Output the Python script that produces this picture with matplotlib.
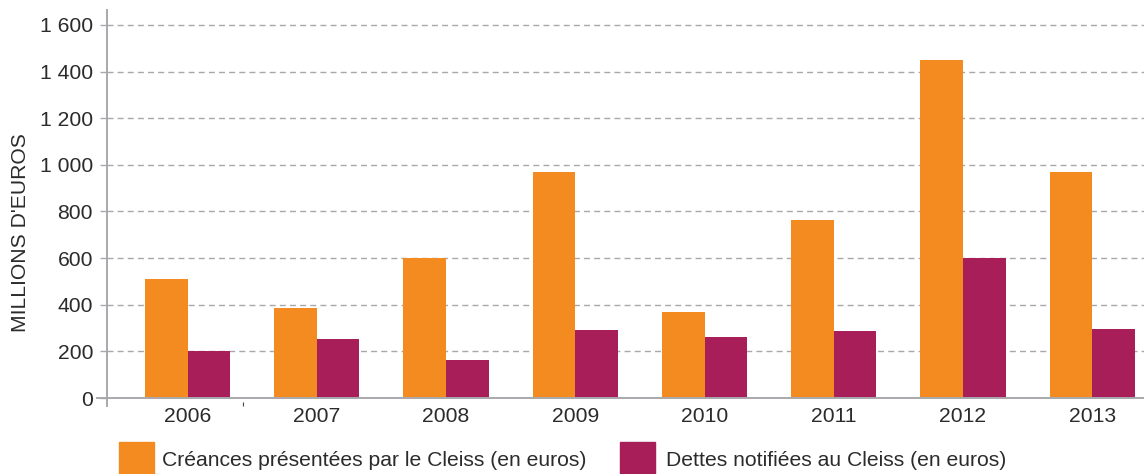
import matplotlib.pyplot as plt
import numpy as np
from matplotlib.patches import Rectangle

plt.rcParams["font.family"] = ["Liberation Sans", "DejaVu Sans"]

years = ["2006", "2007", "2008", "2009", "2010", "2011", "2012", "2013"]
creances = [510, 385, 600, 970, 370, 765, 1450, 970]
dettes = [200, 255, 165, 290, 260, 288, 600, 295]
y_ticks = [0, 200, 400, 600, 800, 1000, 1200, 1400, 1600]
y_labels = ["0", "200", "400", "600", "800", "1 000", "1 200", "1 400", "1 600"]

ORANGE = "#F38B20"
PURPLE = "#A81E59"
TEXT = "#2b2b2b"
AXIS = "#a9a9ad"
GRID = "#a8a8ac"
FS = 15.2


def plot_cleiss():
    fig = plt.figure(figsize=(11.44, 4.74), dpi=100)
    ax = fig.add_axes([107 / 1144, 68 / 474, 1 - 107 / 1144, 396 / 474])

    x = np.arange(len(years))
    w = 0.33
    ax.bar(x - w / 2, creances, width=w, color=ORANGE, zorder=2)
    ax.bar(x + w / 2, dettes, width=w, color=PURPLE, zorder=2)

    ax.set_xlim(-0.623, 7.4)
    ax.set_ylim(-34, 1664)

    ax.set_yticks(y_ticks)
    ax.set_yticklabels(y_labels)
    ax.set_xticks(x)
    ax.set_xticklabels(years)
    # stray small tick under the axis between 2006 and 2007
    ax.set_xticks([0.43], minor=True)

    for t in y_ticks[1:]:
        ax.axhline(t, color=GRID, lw=1, ls=(0, (4.3, 3)), zorder=1)
    ax.plot([-0.0096, 1], [0, 0], color=AXIS, lw=1.4,
            transform=ax.get_yaxis_transform(), clip_on=False, zorder=3)

    for side in ["top", "right", "bottom"]:
        ax.spines[side].set_visible(False)
    ax.spines["left"].set_color(AXIS)
    ax.spines["left"].set_linewidth(1.4)

    ax.tick_params(axis="y", length=5, width=1, color=GRID, pad=5,
                   labelsize=FS, labelcolor=TEXT)
    ax.tick_params(axis="x", length=0, pad=1, labelsize=FS,
                   labelcolor=TEXT)
    ax.tick_params(axis="x", which="minor", length=3, width=0.8,
                   color="#444444", direction="in")

    fig.text(21 / 1144, 1 - 233 / 474, "MILLIONS D'EUROS", rotation=90,
             ha="center", va="center", size=FS, color=TEXT)

    # legend
    fig.patches.append(Rectangle((119 / 1144, 1 - 477 / 474), 35 / 1144,
                                 35 / 474, transform=fig.transFigure,
                                 color=ORANGE))
    fig.text(162 / 1144, 1 - 461 / 474,
             "Créances présentées par le Cleiss (en euros)",
             ha="left", va="center", size=FS, color=TEXT)
    fig.patches.append(Rectangle((620 / 1144, 1 - 477 / 474), 35 / 1144,
                                 35 / 474, transform=fig.transFigure,
                                 color=PURPLE))
    fig.text(666 / 1144, 1 - 461 / 474,
             "Dettes notifiées au Cleiss (en euros)",
             ha="left", va="center", size=FS, color=TEXT)

    fig.savefig("out.png", dpi=100)


if __name__ == "__main__":
    plot_cleiss()
